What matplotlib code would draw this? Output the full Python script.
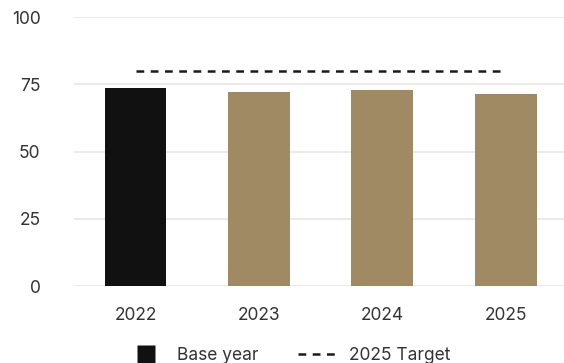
import matplotlib
matplotlib.use("Agg")
import matplotlib.pyplot as plt
from matplotlib.lines import Line2D

plt.rcParams['font.family'] = ['Inter', 'DejaVu Sans']

# data
years = ["2022", "2023", "2024", "2025"]
values = [73.7, 72.1, 72.9, 71.4]
target = 80.0
yticks = [0, 25, 50, 75, 100]

base_color = "#111111"
bar_color = "#9f8a63"
grid_color = "#e6e6e6"
text_color = "#333333"
dash_style = (3.1, 2.6)

fig = plt.figure(figsize=(5.64, 3.63), dpi=100)
ax = fig.add_axes([0.131, 0.212, 0.875, 0.741])

colors = [base_color] + [bar_color] * (len(years) - 1)
x = list(range(len(years)))
ax.bar(x, values, width=0.5, color=colors, zorder=2)

# target line spans first to last category centre
ax.plot([x[0], x[-1]], [target, target], color="#1a1a1a", lw=1.8,
        dashes=dash_style, zorder=3)

ax.set_xlim(-0.5, len(years) - 0.5)
ax.set_ylim(0, 100)
ax.set_yticks(yticks)
ax.set_xticks(x)
ax.set_xticklabels(years)
ax.yaxis.grid(True, color=grid_color, lw=1.2, zorder=0)
ax.set_axisbelow(True)
for s in ax.spines.values():
    s.set_visible(False)
ax.tick_params(axis="y", length=0, pad=24, labelsize=12.5, labelcolor=text_color)
ax.tick_params(axis="x", length=0, pad=15, labelsize=12.5, labelcolor=text_color)

handles = [Line2D([0], [0], color="none", marker="s", markersize=13.5,
                  markerfacecolor=base_color, markeredgecolor="none", label="Base year"),
           Line2D([0], [0], color="#1a1a1a", lw=1.8, dashes=dash_style, label="2025 Target")]
fig.legend(handles=handles, loc="center", bbox_to_anchor=(0.511, 0.02), ncol=2,
           frameon=False, fontsize=12.5, handlelength=2.2, handletextpad=0.7,
           columnspacing=2.3, labelcolor=text_color)

fig.savefig("out.png", dpi=100)
